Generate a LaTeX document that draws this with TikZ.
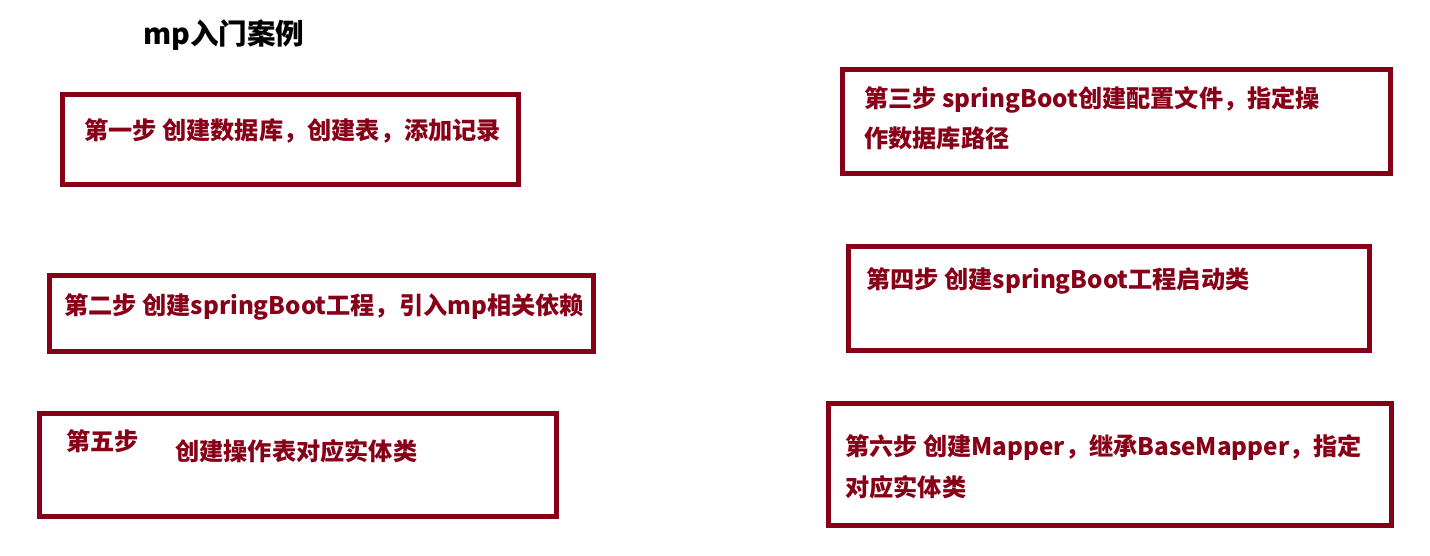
\documentclass[tikz,border=0pt]{standalone}
\usepackage{fontspec}
\setmainfont{Noto Sans CJK SC}
\usepackage{xcolor}
\usepackage{tikz}
\usetikzlibrary{positioning}
\definecolor{stepred}{HTML}{870018}

\begin{document}
\begin{tikzpicture}[x=1pt,y=-1pt,
          every node/.style={font=\fontsize{24.2}{40}\selectfont\bfseries},
          stepbox/.style={draw=stepred,line width=5pt,inner sep=0pt},
          steptext/.style={text=stepred,anchor=west,align=left,inner sep=0pt}
      ]
        \useasboundingbox[fill=white] (0,0) rectangle (1430,556);
        \node[anchor=west,inner sep=0pt,font=\fontsize{28.6}{32}\selectfont\bfseries] (title) at (143,35) {mp入门案例};

        \node[stepbox,minimum width=456pt,minimum height=90pt] (s1) at (290.5,139.5) {};
        \node[stepbox,minimum width=548pt,minimum height=104pt] (s3) at (1116.5,121.5) {};
        \node[stepbox,minimum width=544pt,minimum height=76pt] (s2) at (321.5,313.5) {};
        \node[stepbox,minimum width=521pt,minimum height=104pt] (s4) at (1109,298.5) {};
        \node[stepbox,minimum width=517pt,minimum height=103pt] (s5) at (298,465) {};
        \node[stepbox,minimum width=563pt,minimum height=122pt] (s6) at (1110,464.5) {};

        \node[steptext] (t1) at (84,131) {第一步 创建数据库，创建表，添加记录};
        \node[steptext] (t3) at (864,118) {第三步 springBoot创建配置文件，指定操\\作数据库路径};
        \node[steptext] (t2) at (64,307) {第二步 创建springBoot工程，引入mp相关依赖};
        \node[steptext] (t4) at (866,281) {第四步 创建springBoot工程启动类};
        \node[steptext] (t5a) at (66,441) {第五步};
        \node[steptext] (t5b) at (175,451) {创建操作表对应实体类};
        \node[steptext,font=\fontsize{24.2}{41}\selectfont\bfseries] (t6) at (845,466.5) {第六步 创建Mapper，继承BaseMapper，指定\\对应实体类};
      \end{tikzpicture}
\end{document}
